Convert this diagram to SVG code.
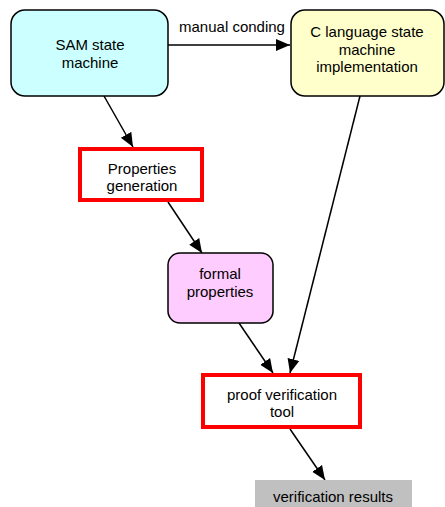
<svg xmlns="http://www.w3.org/2000/svg" width="445" height="507" viewBox="0 0 445 507">
<style>
text{font-family:"Liberation Sans",Arial,sans-serif;font-size:15px;fill:#000;text-anchor:middle}
.rb{stroke:#000;stroke-width:1.5}
.red{fill:#fff;stroke:#f00;stroke-width:4}
.c{stroke:#000;stroke-width:1.5;fill:none;marker-end:url(#ah)}
</style>
<defs>
<marker id="ah" markerUnits="userSpaceOnUse" markerWidth="14" markerHeight="14" viewBox="0 0 14 14" refX="14" refY="7" orient="auto">
<path d="M0,1 L14,7 L0,13 Z" fill="#000"/>
</marker>
</defs>
<rect width="445" height="507" fill="#fff"/>
<g id="connectors">
<line class="c" x1="168" y1="45" x2="290" y2="45"/>
<text x="232" y="32">manual conding</text>
<line class="c" x1="104" y1="96" x2="133" y2="147"/>
<line class="c" x1="168" y1="202" x2="202" y2="253"/>
<line class="c" x1="239" y1="323" x2="273" y2="373"/>
<line class="c" x1="360" y1="96" x2="290" y2="373"/>
<line class="c" x1="290" y1="429" x2="325" y2="480"/>
</g>
<g id="sam">
<rect class="rb" x="11" y="10" width="157" height="86" rx="14" fill="#ccffff"/>
<text x="90" y="50">SAM state</text>
<text x="90" y="68">machine</text>
</g>
<g id="cimpl">
<rect class="rb" x="291" y="10" width="153" height="86" rx="14" fill="#ffffcc"/>
<text x="367" y="37">C language state</text>
<text x="367" y="55">machine</text>
<text x="367" y="72">implementation</text>
</g>
<g id="propgen">
<rect class="red" x="80" y="149" width="122" height="51"/>
<text x="142" y="174">Properties</text>
<text x="142" y="191">generation</text>
</g>
<g id="formal">
<rect class="rb" x="168" y="253" width="105" height="70" rx="12" fill="#ffccff"/>
<text x="220" y="279">formal</text>
<text x="220" y="297">properties</text>
</g>
<g id="proof">
<rect class="red" x="203" y="375" width="157" height="52"/>
<text x="282" y="400">proof verification</text>
<text x="282" y="417">tool</text>
</g>
<g id="results">
<rect x="255" y="480" width="157" height="30" fill="#c0c0c0"/>
<text x="333" y="502">verification results</text>
</g>
</svg>
